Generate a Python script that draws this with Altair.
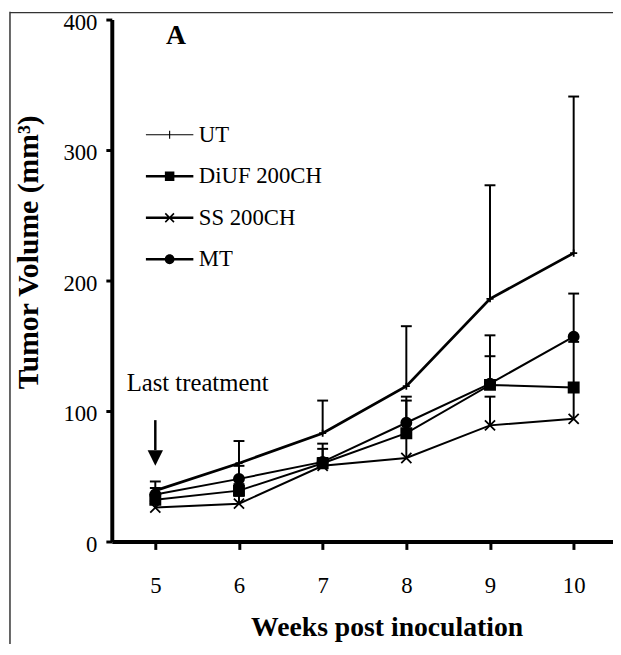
import altair as alt
import pandas as pd

weeks = [5, 6, 7, 8, 9, 10]
groups = ["UT", "DiUF 200CH", "SS 200CH", "MT"]

ut_mean = [39, 60, 83, 119, 186, 221]
ut_upper = [46, 77, 108, 165, 273, 341]
diuf_mean = [32, 39, 60, 83, 120, 118]
diuf_upper = [37, 44, 71, 108, 142, 153]
ss_mean = [26, 29, 58, 64, 89, 94]
ss_upper = [31, 35, 64, 80, 111, 115]
mt_mean = [36, 48, 61, 91, 121, 157]
mt_upper = [41, 58, 75, 111, 158, 190]

y_ticks = [0, 100, 200, 300, 400]
x_title = "Weeks post inoculation"
y_title = "Tumor Volume (mm³)"
annot_text = ["Last treatment"]
panel_text = ["A"]
arrow_week = [5]
arrow_top = [93]
arrow_base = [70]
arrow_head = [64]

rows = []
for g, means, uppers in zip(groups, [ut_mean, diuf_mean, ss_mean, mt_mean],
                            [ut_upper, diuf_upper, ss_upper, mt_upper]):
    for w, m, u in zip(weeks, means, uppers):
        rows.append({"week": w, "group": g, "mean": m, "upper": u})
df = pd.DataFrame(rows)

SERIF = "Liberation Serif"

x_axis = alt.Axis(values=weeks, format="d", grid=False, domainWidth=4, domainColor="black",
                  tickColor="black", tickWidth=3, tickSize=8, labelFont=SERIF, labelFontSize=23,
                  labelColor="black", labelPadding=37, labelBaseline="middle", labelFlush=False,
                  title=x_title, titleFont=SERIF, titleFontSize=28, titleFontWeight="bold",
                  titleColor="black", titleX=278, titleY=87, titleBaseline="middle",
                  titleAlign="center")
y_axis = alt.Axis(values=y_ticks, format="d", grid=False, domainWidth=4, domainColor="black",
                  tickColor="black", tickWidth=3, tickSize=6, labelFont=SERIF, labelFontSize=23,
                  labelColor="black", labelPadding=9, labelOffset=3, labelFlush=False,
                  title=y_title, titleFont=SERIF, titleFontSize=30, titleFontWeight="bold",
                  titleColor="black", titleX=-84, titleY=235, titleBaseline="middle",
                  titleAlign="center", titleAngle=270)

x_scale = alt.Scale(domain=[4.48, 10.47], nice=False, zero=False)
y_scale = alt.Scale(domain=[0, 400], nice=False)


def xe(field="week"):
    return alt.X(f"{field}:Q", scale=x_scale, axis=x_axis)


def ye(field):
    return alt.Y(f"{field}:Q", scale=y_scale, axis=y_axis)


base = alt.Chart(df)

lines = base.mark_line(color="black").encode(
    x=xe(), y=ye("mean"), detail="group:N",
    strokeWidth=alt.condition("datum.group === 'UT'", alt.value(2.8), alt.value(2.0)),
)

err = base.mark_rule(color="black", strokeWidth=2).encode(
    x=xe(), y=ye("mean"), y2="upper:Q"
)

caps = base.mark_point(shape="M-1,0H1", size=121, strokeWidth=2, color="black",
                       filled=False, opacity=1).encode(x=xe(), y=ye("upper"))

plot_shapes = [
    "M-0.7,0H0.7M0,-0.7V0.7",
    "square",
    "M-1,-1L1,1M-1,1L1,-1",
    "circle",
]
markers = base.mark_point(filled=True, fill="black", stroke="black", strokeWidth=1.8,
                          opacity=1, size=105).encode(
    x=xe(), y=ye("mean"),
    shape=alt.Shape("group:N", scale=alt.Scale(domain=groups, range=plot_shapes), legend=None),
)

# legend symbols: filled outlines only (line segment + marker)
thin_bar = "M-3,-0.07H3V0.07H-3Z"
bar = "M-3,-0.15H3V0.15H-3Z"
plus = "M-0.07,-0.5H0.07V0.5H-0.07Z"
cross = ("M-0.48,-0.62L0.62,0.48L0.48,0.62L-0.62,-0.48Z"
         "M-0.62,0.48L0.48,-0.62L0.62,-0.48L-0.48,0.62Z")
square = "M-0.6,-0.6H0.6V0.6H-0.6Z"
circle = "M0.62,0A0.62,0.62 0 1,1 -0.62,0A0.62,0.62 0 1,1 0.62,0Z"
legend_shapes = [thin_bar + plus, bar + square, bar + cross, bar + circle]

legend_layer = base.transform_filter("false").mark_point(
    filled=True, fill="black", stroke="black", strokeWidth=1, opacity=1
).encode(
    x=xe(), y=ye("mean"),
    shape=alt.Shape("group:N", scale=alt.Scale(domain=groups, range=legend_shapes),
                    legend=alt.Legend(title=None, orient="none", legendX=47, legendY=105,
                                      symbolSize=256, symbolStrokeWidth=0,
                                      symbolFillColor="black", symbolStrokeColor="black",
                                      symbolOpacity=1, labelFont=SERIF, labelFontSize=23,
                                      labelColor="black", labelOffset=18, rowPadding=18,
                                      labelLimit=300)),
)

arrow_df = pd.DataFrame({"week": arrow_week, "top": arrow_top, "base": arrow_base,
                         "head": arrow_head})
shaft = alt.Chart(arrow_df).mark_rule(color="black", strokeWidth=2.5).encode(
    x=xe(), y=ye("top"), y2="base:Q"
)
head = alt.Chart(arrow_df).mark_point(shape="M-1,-1L1,-1L0,1Z", size=240, filled=True,
                                      color="black", opacity=1).encode(x=xe(), y=ye("head"))

txt_last = alt.Chart(pd.DataFrame({"label": annot_text})).mark_text(
    font=SERIF, fontSize=25, align="left", baseline="middle", color="black"
).encode(text="label:N", x=alt.value(15), y=alt.value(368))

txt_a = alt.Chart(pd.DataFrame({"label": panel_text})).mark_text(
    font=SERIF, fontSize=28, fontWeight="bold", align="center", baseline="middle",
    color="black"
).encode(text="label:N", x=alt.value(65), y=alt.value(17))

frame_df = pd.DataFrame({"k": [0]})
frame_v = alt.Chart(frame_df).mark_rule(color="#333333", strokeWidth=1.5).encode(
    x=alt.value(-103), y=alt.value(-8), y2=alt.value(640)
)
frame_h = alt.Chart(frame_df).mark_rule(color="#333333", strokeWidth=1.5).encode(
    x=alt.value(-103), x2=alt.value(520), y=alt.value(-7)
)

chart = alt.layer(
    frame_v, frame_h, lines, err, caps, markers, legend_layer, shaft, head, txt_last, txt_a
).resolve_scale(shape="independent").properties(
    width=507, height=528,
    padding={"left": 105, "top": 8, "right": 0, "bottom": 100},
    autosize=alt.AutoSizeParams(type="none"),
).configure_view(strokeWidth=0)

chart.save("out.html", embed_options={"renderer": "svg", "actions": False})
